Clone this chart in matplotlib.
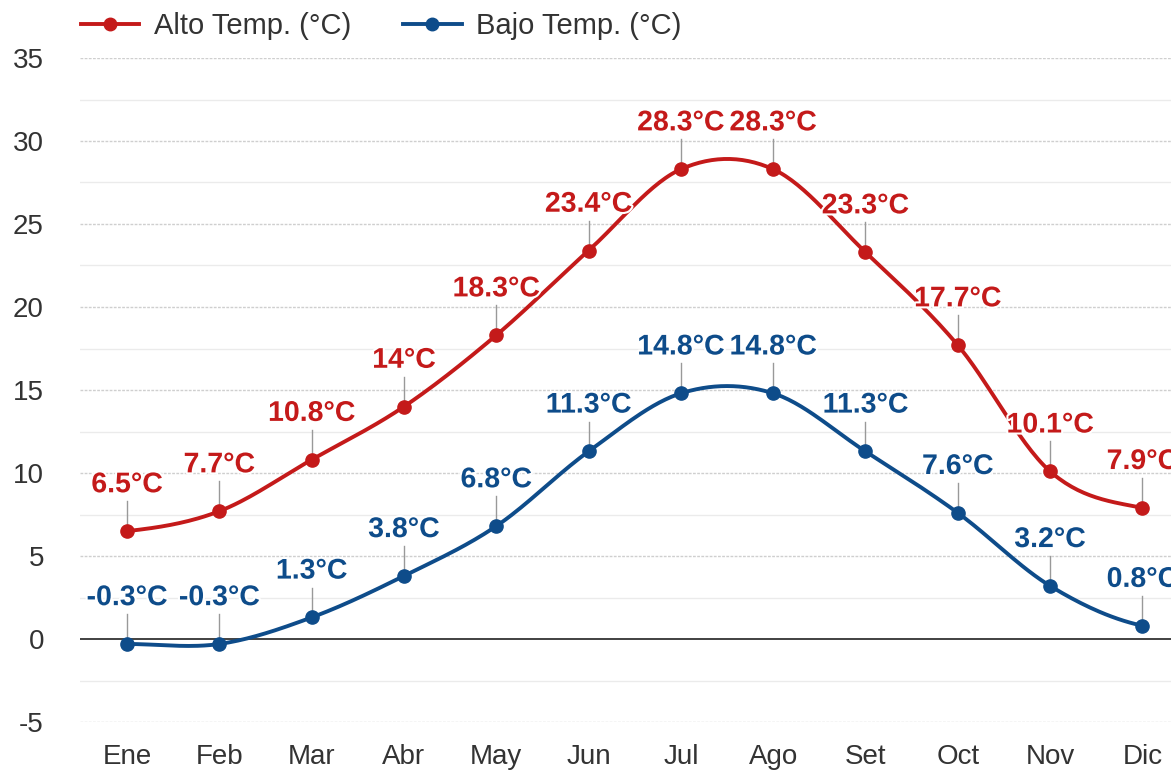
import numpy as np
import matplotlib
matplotlib.use("Agg")
import matplotlib.pyplot as plt
import matplotlib.patheffects as pe
from matplotlib.lines import Line2D

plt.rcParams["font.family"] = ["Liberation Sans", "DejaVu Sans"]

months = ["Ene", "Feb", "Mar", "Abr", "May", "Jun", "Jul", "Ago", "Set", "Oct", "Nov", "Dic"]
alto = [6.5, 7.7, 10.8, 14, 18.3, 23.4, 28.3, 28.3, 23.3, 17.7, 10.1, 7.9]
bajo = [-0.3, -0.3, 1.3, 3.8, 6.8, 11.3, 14.8, 14.8, 11.3, 7.6, 3.2, 0.8]
alto_labels = ["6.5°C", "7.7°C", "10.8°C", "14°C", "18.3°C", "23.4°C", "28.3°C", "28.3°C", "23.3°C", "17.7°C", "10.1°C", "7.9°C"]
bajo_labels = ["-0.3°C", "-0.3°C", "1.3°C", "3.8°C", "6.8°C", "11.3°C", "14.8°C", "14.8°C", "11.3°C", "7.6°C", "3.2°C", "0.8°C"]
yticks = [-5, 0, 5, 10, 15, 20, 25, 30, 35]

RED = "#c41a1a"
BLUE = "#0e4c8a"


def catmull(xs, ys, n=30):
    xs = np.asarray(xs, float)
    ys = np.asarray(ys, float)
    px = np.concatenate([[2 * xs[0] - xs[1]], xs, [2 * xs[-1] - xs[-2]]])
    py = np.concatenate([[ys[0]], ys, [ys[-1]]])
    ox, oy = [], []
    for i in range(1, len(px) - 2):
        t = np.linspace(0, 1, n, endpoint=False)
        p0, p1, p2, p3 = py[i - 1], py[i], py[i + 1], py[i + 2]
        yy = 0.5 * ((2 * p1) + (-p0 + p2) * t + (2 * p0 - 5 * p1 + 4 * p2 - p3) * t ** 2
                    + (-p0 + 3 * p1 - 3 * p2 + p3) * t ** 3)
        xx = px[i] + (px[i + 1] - px[i]) * t
        ox.append(xx)
        oy.append(yy)
    ox.append([xs[-1]])
    oy.append([ys[-1]])
    return np.concatenate(ox), np.concatenate(oy)


fig = plt.figure(figsize=(11.71, 7.71), dpi=100)
ax = fig.add_axes([80 / 1171, 1 - 722 / 771, 1 - 80 / 1171, (722 - 58) / 771])
x = np.arange(len(months))

ax.set_xlim(-0.51, 11.31)
ax.set_ylim(-5, 35)

for v in np.arange(-5, 35.1, 2.5):
    if v == 0:
        continue
    if v % 5 == 0:
        ax.axhline(v, color="#cfcfcf", lw=1, ls=(0, (2, 1)), zorder=0)
    else:
        ax.axhline(v, color="#ebebeb", lw=1, zorder=0)
ax.axhline(0, color="#333333", lw=1.3, zorder=1)

for data, labels, col in [(alto, alto_labels, RED), (bajo, bajo_labels, BLUE)]:
    sx, sy = catmull(x, data)
    ax.plot(sx, sy, color=col, lw=2.8, zorder=3, solid_capstyle="round")
    ax.plot(x, data, "o", color=col, ms=9.5, zorder=4)
    for xi, yi, lab in zip(x, data, labels):
        ax.plot([xi, xi], [yi + 0.3, yi + 1.8], color="#999999", lw=1, zorder=2)
        ax.annotate(lab, (xi, yi), xytext=(0, 33), textcoords="offset points",
                    ha="center", va="center", fontsize=20.5, fontweight="bold", color=col,
                    zorder=5, annotation_clip=False,
                    path_effects=[pe.withStroke(linewidth=3, foreground="white")])

ax.set_xticks(x)
ax.set_xticklabels(months)
ax.set_yticks(yticks)
ax.set_yticklabels([str(v) for v in yticks])
ax.tick_params(axis="both", length=0, labelsize=20, labelcolor="#333333")
ax.tick_params(axis="x", pad=16)
ax.tick_params(axis="y", pad=26)
for s in ax.spines.values():
    s.set_visible(False)

handles = [Line2D([0], [0], color=RED, lw=2.8, marker="o", ms=9),
           Line2D([0], [0], color=BLUE, lw=2.8, marker="o", ms=9)]
fig.legend(handles, ["Alto Temp. (°C)", "Bajo Temp. (°C)"], loc="upper left",
           bbox_to_anchor=(0.0464, 1.018), ncol=2, frameon=False, fontsize=21,
           handlelength=2.0, columnspacing=1.8, handletextpad=0.5,
           labelcolor="#333333")

fig.savefig("out.png", dpi=100)
